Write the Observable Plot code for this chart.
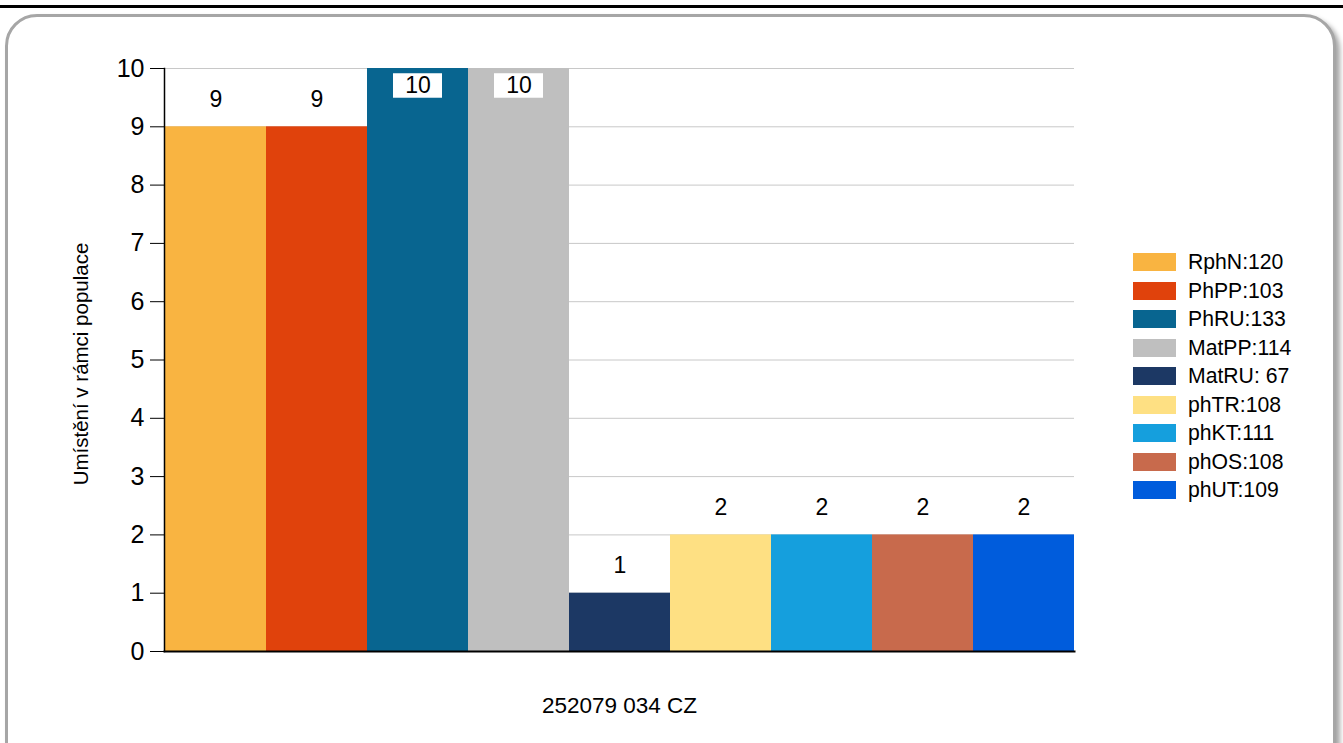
<!DOCTYPE html>
<html>
<head>
<meta charset="utf-8">
<script src="https://cdn.jsdelivr.net/npm/d3@7"></script>
<script src="https://cdn.jsdelivr.net/npm/@observablehq/plot@0.6"></script>
<style>
  html, body { margin: 0; padding: 0; background: #fff; width: 1343px; height: 743px; overflow: hidden; font-family: "Liberation Sans", Arial, sans-serif; }
  #topline { position: absolute; left: 0; top: 5px; width: 1343px; height: 3px; background: #000; }
  #box { position: absolute; left: 5px; top: 14px; width: 1325px; height: 760px; border: 3px solid #a6a6a6; border-radius: 32px; box-shadow: 4px 4px 5px rgba(0,0,0,0.35); background: #fff; }
  #chart { position: absolute; left: 0; top: 0; }
  #legend { position: absolute; left: 1133px; top: 248px; }
  .row { display: flex; align-items: center; height: 28.5px; margin-top: 0; }
  .sw { width: 43px; height: 18px; margin-right: 12px; }
  .lb { font-size: 21.2px; color: #000; line-height: 18px; }
</style>
</head>
<body>
<div id="topline"></div>
<div id="box"></div>
<div id="chart"></div>
<div id="legend"></div>
<script>
const categories = ["RphN:120", "PhPP:103", "PhRU:133", "MatPP:114", "MatRU: 67", "phTR:108", "phKT:111", "phOS:108", "phUT:109"];
const values = [9, 9, 10, 10, 1, 2, 2, 2, 2];
const colors = ["#F9B441", "#E0420C", "#086590", "#BFBFBF", "#1C3864", "#FEE083", "#159FDD", "#C86A4C", "#005CDC"];
const yTicks = [0, 1, 2, 3, 4, 5, 6, 7, 8, 9, 10];
const yLabel = "Umístění v rámci populace";
const xLabel = "252079 034 CZ";
const yMax = 10;

const data = categories.map((c, i) => ({cat: c, value: values[i], color: colors[i]}));
const labelY = d => d.value < yMax ? d.value + 0.47 : d.value - 0.3;

const chart = Plot.plot({
  width: 1343,
  height: 743,
  marginLeft: 164,
  marginRight: 269,
  marginTop: 68,
  marginBottom: 92,
  style: {fontFamily: "'Liberation Sans', Arial, sans-serif", background: "transparent", overflow: "visible"},
  x: {domain: categories, padding: 0, axis: null},
  y: {domain: [0, yMax], ticks: yTicks, grid: false, label: null},
  marks: [
    Plot.gridY(yTicks, {stroke: "#c8c8c8", strokeOpacity: 1, strokeWidth: 1}),
    Plot.barY(data, {x: "cat", y: "value", fill: d => d.color}),
    Plot.barY(data.filter(d => d.value >= yMax), {x: "cat", y1: d => d.value - 0.51, y2: d => d.value - 0.09, fill: "white", insetLeft: 26, insetRight: 26}),
    Plot.text(data, {x: "cat", y: labelY, text: d => String(d.value), fontSize: 23, fill: "#000"}),
    Plot.axisY(yTicks, {tickSize: 14, tickPadding: 6, fontSize: 25, tickFormat: d => String(d), stroke: "#000", fill: "#000", label: null}),
    Plot.frame({anchor: "left", stroke: "#000", strokeWidth: 1.5}),
    Plot.frame({anchor: "bottom", stroke: "#000", strokeWidth: 2}),
    Plot.text([yLabel], {frameAnchor: "left", textAnchor: "middle", dx: -83, dy: 4, rotate: -90, text: d => d, fontSize: 20.5, fill: "#000"}),
    Plot.text([xLabel], {frameAnchor: "bottom", dy: 61, text: d => d, fontSize: 22.5, fill: "#000"})
  ]
});
document.getElementById("chart").appendChild(chart);

const legend = document.getElementById("legend");
categories.forEach((c, i) => {
  const row = document.createElement("div");
  row.className = "row";
  const sw = document.createElement("div");
  sw.className = "sw";
  sw.style.background = colors[i];
  const lb = document.createElement("div");
  lb.className = "lb";
  lb.textContent = c;
  row.appendChild(sw);
  row.appendChild(lb);
  legend.appendChild(row);
});
</script>
</body>
</html>
